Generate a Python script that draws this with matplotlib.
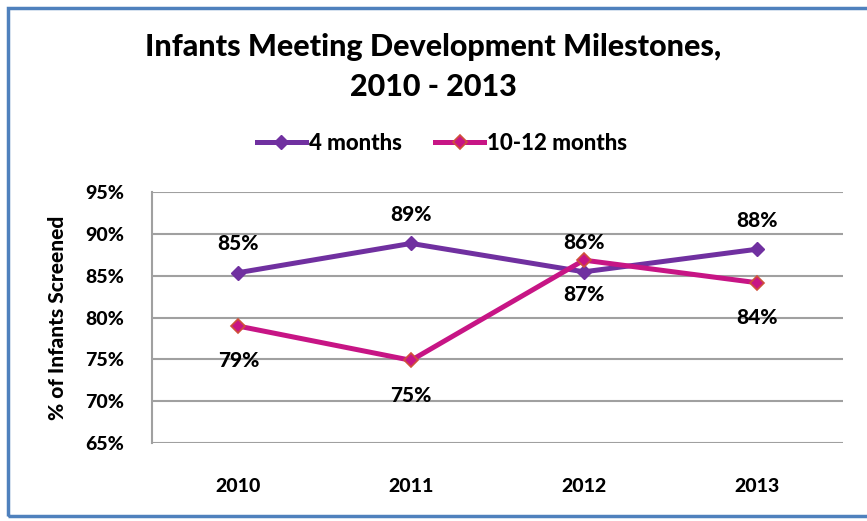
import matplotlib.pyplot as plt
from matplotlib.patches import Rectangle

years = ["2010", "2011", "2012", "2013"]
four_months = [85.4, 88.9, 85.5, 88.2]
ten_twelve_months = [79.0, 74.9, 86.9, 84.2]
y_ticks = [65, 70, 75, 80, 85, 90, 95]

plt.rcParams['font.family'] = ['Lato', 'DejaVu Sans']
W = "black"

fig = plt.figure(figsize=(8.67, 5.21), dpi=100)
ax = fig.add_axes([152 / 867, 1 - 443 / 521, 691 / 867, 250.5 / 521])

x = range(len(years))
ax.plot(x, four_months, color="#7030A0", lw=3.6, marker="D", ms=7,
        mfc="#7030A0", mec="#7030A0", label="4 months", zorder=3)
ax.plot(x, ten_twelve_months, color="#C71585", lw=3.6, marker="D", ms=7,
        mfc="#C71585", mec="#D0503A", mew=1.2, label="10-12 months", zorder=3)

for i, v in enumerate(four_months):
    ax.annotate(f"{round(v)}%", (i, v), xytext=(0, 21), textcoords="offset points",
                ha="center", va="center", fontsize=15, fontweight=W)
for i, v in enumerate(ten_twelve_months):
    ax.annotate(f"{round(v)}%", (i, v), xytext=(0, -25), textcoords="offset points",
                ha="center", va="center", fontsize=15, fontweight=W)

ax.set_xlim(-0.5, 3.5)
ax.set_ylim(65, 95)
ax.set_yticks(y_ticks)
ax.set_yticklabels([f"{t}%" for t in y_ticks], fontsize=14, fontweight=W)
ax.set_xticks(list(x))
ax.set_xticklabels(years, fontsize=14, fontweight=W)
ax.tick_params(length=0)
ax.tick_params(axis="y", pad=20)
ax.tick_params(axis="x", pad=25)
ax.grid(axis="y", color="#A0A0A0", lw=1.5)
for side in ["top", "right", "bottom"]:
    ax.spines[side].set_visible(False)
ax.spines["left"].set_color("#A0A0A0")
ax.spines["left"].set_linewidth(1.5)
ax.set_axisbelow(True)

ax.set_ylabel("% of Infants Screened", fontsize=15, fontweight=W, labelpad=13)

fig.text(0.5, 1 - 47 / 521, "Infants Meeting Development Milestones,", ha="center",
         va="center", fontsize=22, fontweight=W)
fig.text(0.5, 1 - 87 / 521, "2010 - 2013", ha="center", va="center",
         fontsize=22, fontweight=W)

fig.legend(loc="center", bbox_to_anchor=(0.51, 1 - 143 / 521), ncol=2, frameon=False,
           prop={"weight": W, "size": 16}, handlelength=2.2, handletextpad=0.15,
           columnspacing=1.5)

# chart frame
fig.patches.append(Rectangle((8 / 867, 5 / 521), 900 / 867, 508 / 521,
                             transform=fig.transFigure, fill=False,
                             edgecolor="#4F81BD", lw=2.5))

fig.savefig("out.png", dpi=100)
